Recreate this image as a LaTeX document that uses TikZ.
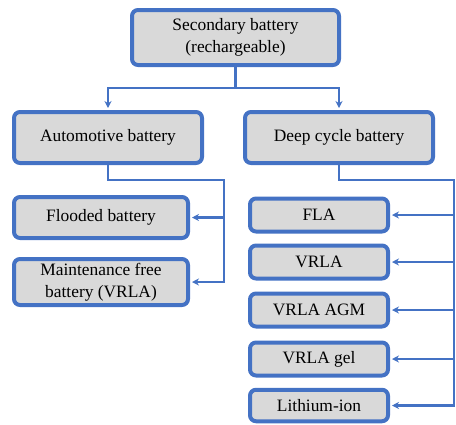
\documentclass[tikz,border=0pt]{standalone}
\usepackage{fontspec}
\setmainfont{Liberation Serif}
\usetikzlibrary{arrows.meta}
\definecolor{bblue}{RGB}{68,114,196}
\definecolor{bgray}{RGB}{217,217,217}
\begin{document}
\begin{tikzpicture}[x=1pt,y=-1pt,
  box/.style={draw=bblue,fill=bgray,line width=4pt,rounded corners=6pt,
    align=center,inner sep=0pt,font=\fontsize{17.4}{22}\selectfont},
  conn/.style={draw=bblue,line width=2.6pt},
  arr/.style={conn,-{Stealth[length=7pt,width=7pt]},shorten >=2pt}]
\useasboundingbox (0,0) rectangle (456,424);
\node[box,minimum width=207pt,minimum height=55pt] (top) at (235.5,37.5) {Secondary battery\\(rechargeable)};
\node[box,minimum width=188pt,minimum height=51pt] (auto) at (108,137.5) {Automotive battery};
\node[box,minimum width=188pt,minimum height=51pt] (deep) at (339,137.5) {Deep cycle battery};
\node[box,minimum width=174pt,minimum height=41pt] (flood) at (101,217.5) {Flooded battery};
\node[box,minimum width=174pt,minimum height=46pt] (maint) at (101,282) {Maintenance free\\battery (VRLA)};
\node[box,minimum width=138pt,minimum height=33pt] (fla) at (319,215) {FLA};
\node[box,minimum width=138pt,minimum height=33pt] (vrla) at (319,262) {VRLA};
\node[box,minimum width=138pt,minimum height=33pt] (agm) at (319,310) {VRLA AGM};
\node[box,minimum width=138pt,minimum height=33pt] (gel) at (319,359) {VRLA gel};
\node[box,minimum width=138pt,minimum height=31.5pt] (li) at (319,405.5) {Lithium-ion};
\coordinate (j) at (top.south |- 0,88);
\coordinate (ab) at (224,180);
\coordinate (db) at (454,180);
\draw[conn] (top.south) -- (j);
\draw[arr] (j) -| (auto.north);
\draw[arr] (j) -| (deep.north);
\draw[arr] (auto.south) |- (ab) |- (maint.east);
\draw[arr] (ab |- flood.east) -- (flood.east);
\draw[arr] (deep.south) |- (db) |- (li.east);
\draw[arr] (db |- fla.east) -- (fla.east);
\draw[arr] (db |- vrla.east) -- (vrla.east);
\draw[arr] (db |- agm.east) -- (agm.east);
\draw[arr] (db |- gel.east) -- (gel.east);
\end{tikzpicture}
\end{document}
